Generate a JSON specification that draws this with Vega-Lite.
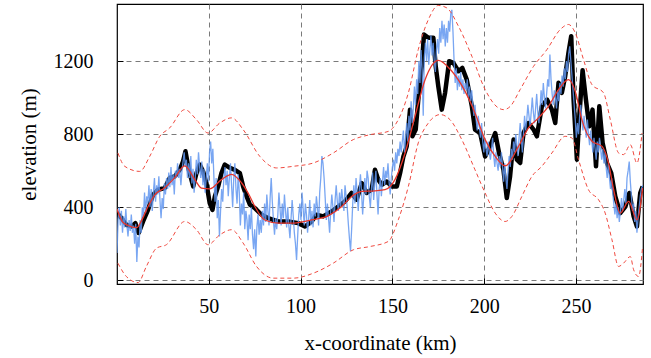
{
  "$schema": "https://vega.github.io/schema/vega-lite/v6.json",
  "width": 526,
  "height": 280,
  "autosize": "none",
  "padding": {"left": 117, "top": 4, "right": 8, "bottom": 74},
  "config": {
    "view": {"stroke": "black", "strokeWidth": 1.2},
    "font": "serif",
    "axis": {
      "labelFont": "'Liberation Serif', serif", "labelFontSize": 20, "labelColor": "black",
      "titleFont": "'Liberation Serif', serif", "titleFontSize": 21, "titleFontWeight": "normal", "titleColor": "black",
      "grid": true, "gridColor": "#7a7a7a", "gridDash": [5, 4], "gridWidth": 1, "gridOpacity": 1,
      "domain": false, "ticks": true, "tickColor": "black", "tickSize": -6, "tickWidth": 1
    }
  },
  "datasets": {
    "blue": [
      {"x":0,"y":150},{"x":0.6,"y":330},{"x":1.2,"y":400},{"x":1.8,"y":300},{"x":2.4,"y":380},{"x":3.0,"y":260},{"x":3.6,"y":350},{"x":4.2,"y":290},{"x":4.8,"y":390},{"x":5.4,"y":300},{"x":6.0,"y":240},{"x":6.6,"y":330},{"x":7.2,"y":270},{"x":7.8,"y":360},{"x":8.4,"y":260},{"x":9.0,"y":300},{"x":9.6,"y":200},{"x":10.2,"y":310},{"x":10.8,"y":100},{"x":11.4,"y":240},{"x":12.0,"y":180},{"x":12.6,"y":330},{"x":13.2,"y":260},{"x":13.8,"y":400},{"x":14.4,"y":350},{"x":15.0,"y":480},{"x":15.6,"y":370},{"x":16.2,"y":460},{"x":16.8,"y":420},{"x":17.4,"y":520},{"x":18.0,"y":400},{"x":18.6,"y":500},{"x":19.2,"y":380},{"x":19.8,"y":480},{"x":20.4,"y":560},{"x":21.0,"y":430},{"x":21.6,"y":520},{"x":22.2,"y":470},{"x":22.8,"y":570},{"x":23.4,"y":440},{"x":24.0,"y":340},{"x":24.6,"y":450},{"x":25.2,"y":390},{"x":25.8,"y":530},{"x":26.4,"y":470},{"x":27.0,"y":560},{"x":27.6,"y":500},{"x":28.2,"y":590},{"x":28.8,"y":510},{"x":29.4,"y":620},{"x":30.0,"y":520},{"x":30.6,"y":580},{"x":31.2,"y":470},{"x":31.8,"y":600},{"x":32.4,"y":560},{"x":33.0,"y":640},{"x":33.6,"y":560},{"x":34.2,"y":610},{"x":34.8,"y":520},{"x":35.4,"y":600},{"x":36.0,"y":650},{"x":36.6,"y":700},{"x":37.2,"y":620},{"x":37.8,"y":660},{"x":38.4,"y":560},{"x":39.0,"y":640},{"x":39.6,"y":560},{"x":40.2,"y":680},{"x":40.8,"y":530},{"x":41.4,"y":610},{"x":42.0,"y":480},{"x":42.6,"y":560},{"x":43.2,"y":660},{"x":43.8,"y":580},{"x":44.4,"y":700},{"x":45.0,"y":620},{"x":45.6,"y":560},{"x":46.2,"y":650},{"x":46.8,"y":520},{"x":47.4,"y":610},{"x":48.0,"y":480},{"x":48.6,"y":560},{"x":49.2,"y":640},{"x":49.8,"y":540},{"x":50.4,"y":700},{"x":51.0,"y":760},{"x":51.6,"y":640},{"x":52.2,"y":720},{"x":52.8,"y":560},{"x":53.4,"y":430},{"x":54.0,"y":560},{"x":54.6,"y":340},{"x":55.2,"y":440},{"x":55.8,"y":240},{"x":56.4,"y":380},{"x":57.0,"y":500},{"x":57.6,"y":430},{"x":58.2,"y":560},{"x":58.8,"y":620},{"x":59.4,"y":520},{"x":60.0,"y":600},{"x":60.6,"y":460},{"x":61.2,"y":560},{"x":61.8,"y":640},{"x":62.4,"y":520},{"x":63.0,"y":400},{"x":63.6,"y":560},{"x":64.2,"y":640},{"x":64.8,"y":500},{"x":65.4,"y":420},{"x":66.0,"y":580},{"x":66.6,"y":480},{"x":67.2,"y":300},{"x":67.8,"y":420},{"x":68.4,"y":360},{"x":69.0,"y":480},{"x":69.6,"y":280},{"x":70.2,"y":380},{"x":70.8,"y":330},{"x":71.4,"y":220},{"x":72.0,"y":360},{"x":72.6,"y":280},{"x":73.2,"y":400},{"x":73.8,"y":250},{"x":74.4,"y":170},{"x":75.0,"y":280},{"x":75.6,"y":130},{"x":76.2,"y":290},{"x":76.8,"y":360},{"x":77.4,"y":250},{"x":78.0,"y":330},{"x":78.6,"y":260},{"x":79.2,"y":380},{"x":79.8,"y":300},{"x":80.4,"y":420},{"x":81.0,"y":320},{"x":81.6,"y":470},{"x":82.2,"y":380},{"x":82.8,"y":300},{"x":83.4,"y":450},{"x":84.0,"y":560},{"x":84.6,"y":430},{"x":85.2,"y":330},{"x":85.8,"y":250},{"x":86.4,"y":340},{"x":87.0,"y":280},{"x":87.6,"y":360},{"x":88.2,"y":480},{"x":88.8,"y":390},{"x":89.4,"y":300},{"x":90.0,"y":420},{"x":90.6,"y":340},{"x":91.2,"y":470},{"x":91.8,"y":380},{"x":92.4,"y":290},{"x":93.0,"y":400},{"x":93.6,"y":300},{"x":94.2,"y":230},{"x":94.8,"y":340},{"x":95.4,"y":440},{"x":96.0,"y":350},{"x":96.6,"y":260},{"x":97.2,"y":200},{"x":97.8,"y":112},{"x":98.4,"y":240},{"x":99.0,"y":360},{"x":99.6,"y":420},{"x":100.2,"y":330},{"x":100.8,"y":480},{"x":101.4,"y":390},{"x":102.0,"y":300},{"x":102.6,"y":420},{"x":103.2,"y":360},{"x":103.8,"y":260},{"x":104.4,"y":340},{"x":105.0,"y":440},{"x":105.6,"y":300},{"x":106.2,"y":380},{"x":106.8,"y":290},{"x":107.4,"y":420},{"x":108.0,"y":350},{"x":108.6,"y":460},{"x":109.2,"y":400},{"x":109.8,"y":300},{"x":110.4,"y":480},{"x":111.0,"y":560},{"x":111.6,"y":680},{"x":112.2,"y":640},{"x":112.8,"y":560},{"x":113.4,"y":450},{"x":114.0,"y":330},{"x":114.6,"y":420},{"x":115.2,"y":340},{"x":115.8,"y":260},{"x":116.4,"y":380},{"x":117.0,"y":470},{"x":117.6,"y":400},{"x":118.2,"y":320},{"x":118.8,"y":440},{"x":119.4,"y":520},{"x":120.0,"y":430},{"x":120.6,"y":380},{"x":121.2,"y":480},{"x":121.8,"y":400},{"x":122.4,"y":500},{"x":123.0,"y":440},{"x":123.6,"y":380},{"x":124.2,"y":520},{"x":124.8,"y":460},{"x":125.4,"y":400},{"x":126.0,"y":310},{"x":126.6,"y":230},{"x":127.2,"y":160},{"x":127.8,"y":280},{"x":128.4,"y":420},{"x":129.0,"y":520},{"x":129.6,"y":420},{"x":130.2,"y":560},{"x":130.8,"y":480},{"x":131.4,"y":380},{"x":132.0,"y":500},{"x":132.6,"y":580},{"x":133.2,"y":480},{"x":133.8,"y":360},{"x":134.4,"y":460},{"x":135.0,"y":560},{"x":135.6,"y":470},{"x":136.2,"y":600},{"x":136.8,"y":560},{"x":137.4,"y":460},{"x":138.0,"y":400},{"x":138.6,"y":500},{"x":139.2,"y":590},{"x":139.8,"y":440},{"x":140.4,"y":530},{"x":141.0,"y":600},{"x":141.6,"y":470},{"x":142.2,"y":360},{"x":142.8,"y":500},{"x":143.4,"y":560},{"x":144.0,"y":460},{"x":144.6,"y":540},{"x":145.2,"y":620},{"x":145.8,"y":520},{"x":146.4,"y":600},{"x":147.0,"y":560},{"x":147.6,"y":640},{"x":148.2,"y":540},{"x":148.8,"y":470},{"x":149.4,"y":560},{"x":150.0,"y":620},{"x":150.6,"y":660},{"x":151.2,"y":600},{"x":151.8,"y":700},{"x":152.4,"y":640},{"x":153.0,"y":720},{"x":153.6,"y":680},{"x":154.2,"y":760},{"x":154.8,"y":700},{"x":155.4,"y":760},{"x":156.0,"y":820},{"x":156.6,"y":700},{"x":157.2,"y":780},{"x":157.8,"y":860},{"x":158.4,"y":760},{"x":159.0,"y":900},{"x":159.6,"y":820},{"x":160.2,"y":980},{"x":160.8,"y":860},{"x":161.4,"y":940},{"x":162.0,"y":1060},{"x":162.6,"y":960},{"x":163.2,"y":1100},{"x":163.8,"y":1020},{"x":164.4,"y":1200},{"x":165.0,"y":1080},{"x":165.6,"y":1260},{"x":166.2,"y":1150},{"x":166.8,"y":900},{"x":167.4,"y":1220},{"x":168.0,"y":1300},{"x":168.6,"y":1200},{"x":169.2,"y":1320},{"x":169.8,"y":1180},{"x":170.4,"y":1260},{"x":171.0,"y":1340},{"x":171.6,"y":1230},{"x":172.2,"y":1300},{"x":172.8,"y":1200},{"x":173.4,"y":1140},{"x":174.0,"y":1260},{"x":174.6,"y":1320},{"x":175.2,"y":1240},{"x":175.8,"y":1380},{"x":176.4,"y":1300},{"x":177.0,"y":1420},{"x":177.6,"y":1320},{"x":178.2,"y":1400},{"x":178.8,"y":1280},{"x":179.4,"y":1380},{"x":180.0,"y":1300},{"x":180.6,"y":1420},{"x":181.2,"y":1360},{"x":181.8,"y":1460},{"x":182.4,"y":1480},{"x":183.0,"y":1360},{"x":183.6,"y":1200},{"x":184.2,"y":1080},{"x":184.8,"y":1160},{"x":185.4,"y":1040},{"x":186.0,"y":1120},{"x":186.6,"y":1060},{"x":187.2,"y":1140},{"x":187.8,"y":1040},{"x":188.4,"y":1100},{"x":189.0,"y":1020},{"x":189.6,"y":1080},{"x":190.2,"y":1040},{"x":190.8,"y":1100},{"x":191.4,"y":1000},{"x":192.0,"y":1060},{"x":192.6,"y":980},{"x":193.2,"y":1040},{"x":193.8,"y":960},{"x":194.4,"y":900},{"x":195.0,"y":960},{"x":195.6,"y":880},{"x":196.2,"y":820},{"x":196.8,"y":900},{"x":197.4,"y":840},{"x":198.0,"y":780},{"x":198.6,"y":860},{"x":199.2,"y":760},{"x":199.8,"y":700},{"x":200.4,"y":780},{"x":201.0,"y":720},{"x":201.6,"y":680},{"x":202.2,"y":760},{"x":202.8,"y":700},{"x":203.4,"y":660},{"x":204.0,"y":720},{"x":204.6,"y":780},{"x":205.2,"y":680},{"x":205.8,"y":620},{"x":206.4,"y":700},{"x":207.0,"y":640},{"x":207.6,"y":600},{"x":208.2,"y":680},{"x":208.8,"y":620},{"x":209.4,"y":700},{"x":210.0,"y":620},{"x":210.6,"y":540},{"x":211.2,"y":640},{"x":211.8,"y":560},{"x":212.4,"y":500},{"x":213.0,"y":600},{"x":213.6,"y":680},{"x":214.2,"y":620},{"x":214.8,"y":720},{"x":215.4,"y":660},{"x":216.0,"y":760},{"x":216.6,"y":700},{"x":217.2,"y":800},{"x":217.8,"y":740},{"x":218.4,"y":680},{"x":219.0,"y":780},{"x":219.6,"y":860},{"x":220.2,"y":780},{"x":220.8,"y":700},{"x":221.4,"y":800},{"x":222.0,"y":900},{"x":222.6,"y":820},{"x":223.2,"y":880},{"x":223.8,"y":960},{"x":224.4,"y":900},{"x":225.0,"y":840},{"x":225.6,"y":920},{"x":226.2,"y":1000},{"x":226.8,"y":920},{"x":227.4,"y":860},{"x":228.0,"y":940},{"x":228.6,"y":1020},{"x":229.2,"y":920},{"x":229.8,"y":860},{"x":230.4,"y":940},{"x":231.0,"y":1040},{"x":231.6,"y":960},{"x":232.2,"y":1080},{"x":232.8,"y":1000},{"x":233.4,"y":940},{"x":234.0,"y":1020},{"x":234.6,"y":1100},{"x":235.2,"y":1060},{"x":235.8,"y":1235},{"x":236.4,"y":1100},{"x":237.0,"y":1020},{"x":237.6,"y":960},{"x":238.2,"y":1040},{"x":238.8,"y":1000},{"x":239.4,"y":940},{"x":240.0,"y":1040},{"x":240.6,"y":980},{"x":241.2,"y":1080},{"x":241.8,"y":1020},{"x":242.4,"y":1120},{"x":243.0,"y":1060},{"x":243.6,"y":1160},{"x":244.2,"y":1100},{"x":244.8,"y":1200},{"x":245.4,"y":1140},{"x":246.0,"y":1240},{"x":246.6,"y":1280},{"x":247.2,"y":1200},{"x":247.8,"y":1120},{"x":248.4,"y":1040},{"x":249.0,"y":960},{"x":249.6,"y":880},{"x":250.2,"y":780},{"x":250.8,"y":860},{"x":251.4,"y":800},{"x":252.0,"y":900},{"x":252.6,"y":960},{"x":253.2,"y":880},{"x":253.8,"y":820},{"x":254.4,"y":900},{"x":255.0,"y":840},{"x":255.6,"y":780},{"x":256.2,"y":880},{"x":256.8,"y":800},{"x":257.4,"y":740},{"x":258.0,"y":820},{"x":258.6,"y":760},{"x":259.2,"y":700},{"x":259.8,"y":780},{"x":260.4,"y":720},{"x":261.0,"y":660},{"x":261.6,"y":760},{"x":262.2,"y":700},{"x":262.8,"y":780},{"x":263.4,"y":720},{"x":264.0,"y":660},{"x":264.6,"y":720},{"x":265.2,"y":640},{"x":265.8,"y":700},{"x":266.4,"y":620},{"x":267.0,"y":560},{"x":267.6,"y":640},{"x":268.2,"y":560},{"x":268.8,"y":500},{"x":269.4,"y":560},{"x":270.0,"y":480},{"x":270.6,"y":420},{"x":271.2,"y":360},{"x":271.8,"y":420},{"x":272.4,"y":340},{"x":273.0,"y":400},{"x":273.6,"y":320},{"x":274.2,"y":380},{"x":274.8,"y":450},{"x":275.4,"y":380},{"x":276.0,"y":440},{"x":276.6,"y":500},{"x":277.2,"y":420},{"x":277.8,"y":560},{"x":278.4,"y":600},{"x":279.0,"y":650},{"x":279.6,"y":540},{"x":280.2,"y":460},{"x":280.8,"y":380},{"x":281.4,"y":420},{"x":282.0,"y":320},{"x":282.6,"y":380},{"x":283.2,"y":260},{"x":283.8,"y":340},{"x":284.4,"y":400},{"x":285.0,"y":460},{"x":285.6,"y":500},{"x":286.3,"y":520}
    ],
    "black": [
      {"x":0,"y":368},{"x":2.4,"y":341},{"x":5.1,"y":304},{"x":7.9,"y":295},{"x":10,"y":313},{"x":11.8,"y":259},{"x":14.2,"y":322},{"x":16.9,"y":386},{"x":19.6,"y":468},{"x":22.4,"y":496},{"x":26,"y":505},{"x":28.7,"y":560},{"x":31.5,"y":569},{"x":34.2,"y":605},{"x":36,"y":651},{"x":37.3,"y":706},{"x":39.1,"y":605},{"x":41.5,"y":514},{"x":43.3,"y":587},{"x":45.1,"y":633},{"x":46.9,"y":596},{"x":48.7,"y":532},{"x":50.5,"y":423},{"x":52,"y":386},{"x":53.3,"y":459},{"x":55.1,"y":514},{"x":56.9,"y":587},{"x":58.7,"y":633},{"x":61.5,"y":615},{"x":64.2,"y":605},{"x":66.9,"y":587},{"x":68.7,"y":514},{"x":70.6,"y":459},{"x":72.4,"y":414},{"x":75.1,"y":395},{"x":78.7,"y":359},{"x":82.3,"y":341},{"x":87.8,"y":322},{"x":93.3,"y":322},{"x":98.7,"y":313},{"x":102.4,"y":295},{"x":106,"y":322},{"x":108.7,"y":359},{"x":112.3,"y":350},{"x":116.9,"y":377},{"x":120.5,"y":404},{"x":124.2,"y":432},{"x":127.8,"y":478},{"x":130.5,"y":441},{"x":133.3,"y":532},{"x":136,"y":478},{"x":138.7,"y":496},{"x":140.5,"y":605},{"x":142.3,"y":551},{"x":144.2,"y":523},{"x":146.9,"y":541},{"x":149.6,"y":514},{"x":152.4,"y":514},{"x":154.2,"y":587},{"x":156,"y":678},{"x":157.8,"y":733},{"x":159.6,"y":934},{"x":160.9,"y":788},{"x":162.7,"y":825},{"x":164.1,"y":989},{"x":166,"y":1171},{"x":167.2,"y":1345},{"x":169.6,"y":1327},{"x":172.3,"y":1327},{"x":173.6,"y":1171},{"x":175,"y":1062},{"x":176.9,"y":934},{"x":178.7,"y":1026},{"x":180.9,"y":1199},{"x":183.2,"y":1190},{"x":186,"y":1144},{"x":188.1,"y":1162},{"x":190.5,"y":1098},{"x":193.3,"y":952},{"x":195,"y":825},{"x":197.8,"y":806},{"x":200.5,"y":678},{"x":203.2,"y":733},{"x":206,"y":806},{"x":208.1,"y":697},{"x":210.5,"y":605},{"x":212.3,"y":450},{"x":214.1,"y":569},{"x":216,"y":770},{"x":217.8,"y":660},{"x":219.6,"y":642},{"x":221.4,"y":806},{"x":224.1,"y":861},{"x":226.9,"y":825},{"x":228.7,"y":788},{"x":231.4,"y":952},{"x":234.2,"y":989},{"x":236.9,"y":934},{"x":238.7,"y":861},{"x":240.5,"y":1081},{"x":242.3,"y":1026},{"x":244.1,"y":1117},{"x":245.9,"y":1245},{"x":247.4,"y":1336},{"x":248.7,"y":989},{"x":250.5,"y":660},{"x":251.8,"y":897},{"x":253.6,"y":1150},{"x":255.4,"y":989},{"x":257.2,"y":843},{"x":259,"y":934},{"x":260.9,"y":624},{"x":262.7,"y":952},{"x":264.5,"y":752},{"x":266.9,"y":642},{"x":269.2,"y":587},{"x":271.4,"y":459},{"x":274.1,"y":368},{"x":276.9,"y":404},{"x":279.1,"y":478},{"x":281.4,"y":350},{"x":283.2,"y":295},{"x":285,"y":478},{"x":286.3,"y":514}
    ],
    "mean": [
      {"x":0,"y":390},{"x":3,"y":320},{"x":6,"y":300},{"x":10.7,"y":288},{"x":13,"y":320},{"x":16.9,"y":404},{"x":20.6,"y":468},{"x":26,"y":507},{"x":31.5,"y":562},{"x":36.9,"y":626},{"x":42.4,"y":551},{"x":46,"y":505},{"x":50.5,"y":501},{"x":56.9,"y":551},{"x":62.4,"y":580},{"x":67.8,"y":534},{"x":72.4,"y":459},{"x":75.1,"y":404},{"x":80.5,"y":330},{"x":87.8,"y":313},{"x":95.1,"y":313},{"x":106,"y":331},{"x":115,"y":353},{"x":122.4,"y":404},{"x":127.8,"y":459},{"x":133.3,"y":487},{"x":140.5,"y":490},{"x":146,"y":496},{"x":151.4,"y":551},{"x":156.9,"y":697},{"x":162.3,"y":897},{"x":167.8,"y":1098},{"x":175,"y":1204},{"x":182.4,"y":1144},{"x":189.6,"y":1034},{"x":195,"y":916},{"x":200.5,"y":770},{"x":206,"y":678},{"x":211.4,"y":627},{"x":218.7,"y":733},{"x":224.1,"y":834},{"x":229.6,"y":889},{"x":235,"y":952},{"x":240.5,"y":1044},{"x":245.9,"y":1098},{"x":249.6,"y":1034},{"x":253.2,"y":879},{"x":258.7,"y":761},{"x":264.2,"y":733},{"x":267.7,"y":642},{"x":270.5,"y":496},{"x":274.1,"y":368},{"x":278.7,"y":432},{"x":283.2,"y":331},{"x":286.3,"y":505}
    ],
    "upper": [
      {"x":0.5,"y":697},{"x":4.2,"y":624},{"x":12.4,"y":596},{"x":17.8,"y":678},{"x":23.3,"y":788},{"x":28.7,"y":834},{"x":36.9,"y":934},{"x":43.3,"y":879},{"x":49.6,"y":806},{"x":56,"y":861},{"x":62.4,"y":889},{"x":68.7,"y":825},{"x":77.8,"y":678},{"x":86.9,"y":615},{"x":96,"y":624},{"x":106.9,"y":642},{"x":117.8,"y":697},{"x":128.7,"y":770},{"x":137.8,"y":797},{"x":147.8,"y":815},{"x":153.2,"y":879},{"x":158.7,"y":1026},{"x":164.1,"y":1263},{"x":169.6,"y":1427},{"x":175,"y":1504},{"x":179.6,"y":1491},{"x":186,"y":1390},{"x":193.3,"y":1226},{"x":200.5,"y":1044},{"x":207.8,"y":943},{"x":210.6,"y":934},{"x":214.2,"y":952},{"x":219.6,"y":1044},{"x":226.9,"y":1171},{"x":234.2,"y":1263},{"x":241.4,"y":1372},{"x":245.9,"y":1400},{"x":249.6,"y":1354},{"x":254.1,"y":1208},{"x":258.7,"y":1071},{"x":265,"y":1026},{"x":268.7,"y":879},{"x":273.2,"y":697},{"x":275.9,"y":688},{"x":279.6,"y":742},{"x":283.2,"y":642},{"x":286,"y":806}
    ],
    "lower": [
      {"x":0.5,"y":94},{"x":5.1,"y":21},{"x":11.5,"y":-12},{"x":16,"y":76},{"x":21.5,"y":176},{"x":26.9,"y":195},{"x":36.9,"y":322},{"x":43.3,"y":277},{"x":49.6,"y":195},{"x":56,"y":249},{"x":62.4,"y":277},{"x":68.7,"y":204},{"x":76,"y":76},{"x":85.1,"y":12},{"x":96,"y":12},{"x":106.9,"y":39},{"x":117.8,"y":94},{"x":128.7,"y":167},{"x":137.8,"y":185},{"x":147.8,"y":213},{"x":153.2,"y":331},{"x":158.7,"y":514},{"x":164.1,"y":752},{"x":169.6,"y":861},{"x":176,"y":907},{"x":181.4,"y":879},{"x":187.8,"y":770},{"x":195,"y":605},{"x":200.5,"y":478},{"x":206,"y":368},{"x":211.4,"y":322},{"x":215.1,"y":350},{"x":220.5,"y":459},{"x":226,"y":569},{"x":231.4,"y":624},{"x":236.9,"y":697},{"x":244.1,"y":788},{"x":247.8,"y":779},{"x":251.4,"y":660},{"x":256.8,"y":496},{"x":262.3,"y":441},{"x":265.9,"y":368},{"x":269.6,"y":222},{"x":273.2,"y":76},{"x":275.9,"y":94},{"x":279.6,"y":130},{"x":281.4,"y":58},{"x":284.1,"y":21},{"x":286.3,"y":185}
    ]
  },
  "encoding": {
    "x": {"field": "x", "type": "quantitative", "scale": {"domain": [0, 286.5], "nice": false, "zero": false},
      "axis": {"values": [50, 100, 150, 200, 250], "format": "d", "title": "x-coordinate (km)", "labelPadding": 18, "titlePadding": 16}},
    "y": {"field": "y", "type": "quantitative", "scale": {"domain": [-20, 1512], "nice": false, "zero": false},
      "axis": {"values": [0, 400, 800, 1200], "format": "d", "title": "elevation (m)", "labelPadding": 30, "titlePadding": 14}}
  },
  "layer": [
    {"data": {"name": "black"}, "mark": {"type": "line", "color": "black", "strokeWidth": 4.5, "strokeJoin": "round", "clip": true}},
    {"data": {"name": "blue"}, "mark": {"type": "line", "color": "#6197f0", "strokeWidth": 1.3, "opacity": 0.85, "clip": true}},
    {"data": {"name": "mean"}, "mark": {"type": "line", "color": "#e8362c", "strokeWidth": 1.3, "interpolate": "monotone", "clip": true}},
    {"data": {"name": "upper"}, "mark": {"type": "line", "color": "#f04a40", "strokeWidth": 1, "strokeDash": [4, 3], "interpolate": "monotone", "clip": true}},
    {"data": {"name": "lower"}, "mark": {"type": "line", "color": "#f04a40", "strokeWidth": 1, "strokeDash": [4, 3], "interpolate": "monotone", "clip": true}}
  ]
}
